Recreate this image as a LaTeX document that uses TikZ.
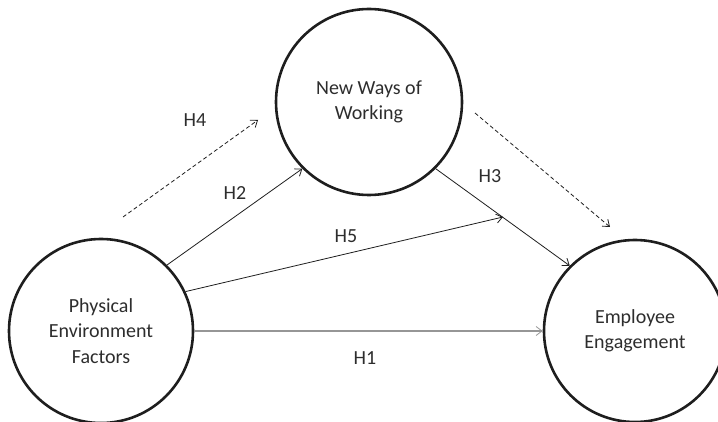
\documentclass[tikz,border=0pt]{standalone}
\usepackage{fontspec}
\setmainfont{Carlito}
\usetikzlibrary{arrows.meta}
\definecolor{inkc}{RGB}{30,30,30}
\definecolor{textc}{RGB}{45,45,45}
\definecolor{greyline}{RGB}{150,150,150}
\tikzset{
  construct/.style={circle, draw=inkc, line width=2.6pt, minimum size=#1, inner sep=0pt,
    align=center, text=textc, font=\fontsize{20}{25.5}\selectfont},
  hyp/.style={text=textc, font=\fontsize{20}{24}\selectfont, inner sep=0pt},
  link/.style={draw=inkc, line width=0.8pt, -{Straight Barb[length=6pt,width=9pt,line width=0.8pt]}},
  directlink/.style={link, draw=greyline, line width=1.7pt,
    -{Straight Barb[length=6pt,width=9pt,line width=0.8pt,color=greyline]}},
  mediation/.style={link, dash pattern=on 4pt off 2.6pt}
}
\begin{document}
\begin{tikzpicture}[x=1pt,y=-1pt]
  \useasboundingbox (0,0) rectangle (718,422);

  % constructs
  \node[construct=184pt] (pef) at (101,331) {Physical\\Environment\\Factors};
  \node[construct=186pt] (nww) at (369,102) {New Ways of\\Working};
  \node[construct=182pt] (ee)  at (635,331) {Employee\\Engagement};

  % free ends of the moderation / mediation arrows
  \coordinate (h5end) at (503,217);
  \coordinate (h4a) at (123,217);
  \coordinate (h4b) at (258,120);
  \coordinate (medA) at (475,113);
  \coordinate (medB) at (610,227);

  % hypothesised paths
  \draw[link] (pef.45) -- (nww.225);
  \draw[link] (nww.-45) -- (ee.135);
  \draw[link] (pef.25) -- (h5end);
  \draw[directlink] (pef.east) -- (ee.west);
  \draw[mediation] (h4a) -- (h4b);
  \draw[mediation] (medA) -- (medB);

  % labels
  \node[hyp] (lh4) at (195,120) {H4};
  \node[hyp] (lh2) at (235,193) {H2};
  \node[hyp] (lh3) at (490,176) {H3};
  \node[hyp] (lh5) at (346,236) {H5};
  \node[hyp] (lh1) at (365,358) {H1};
\end{tikzpicture}
\end{document}
